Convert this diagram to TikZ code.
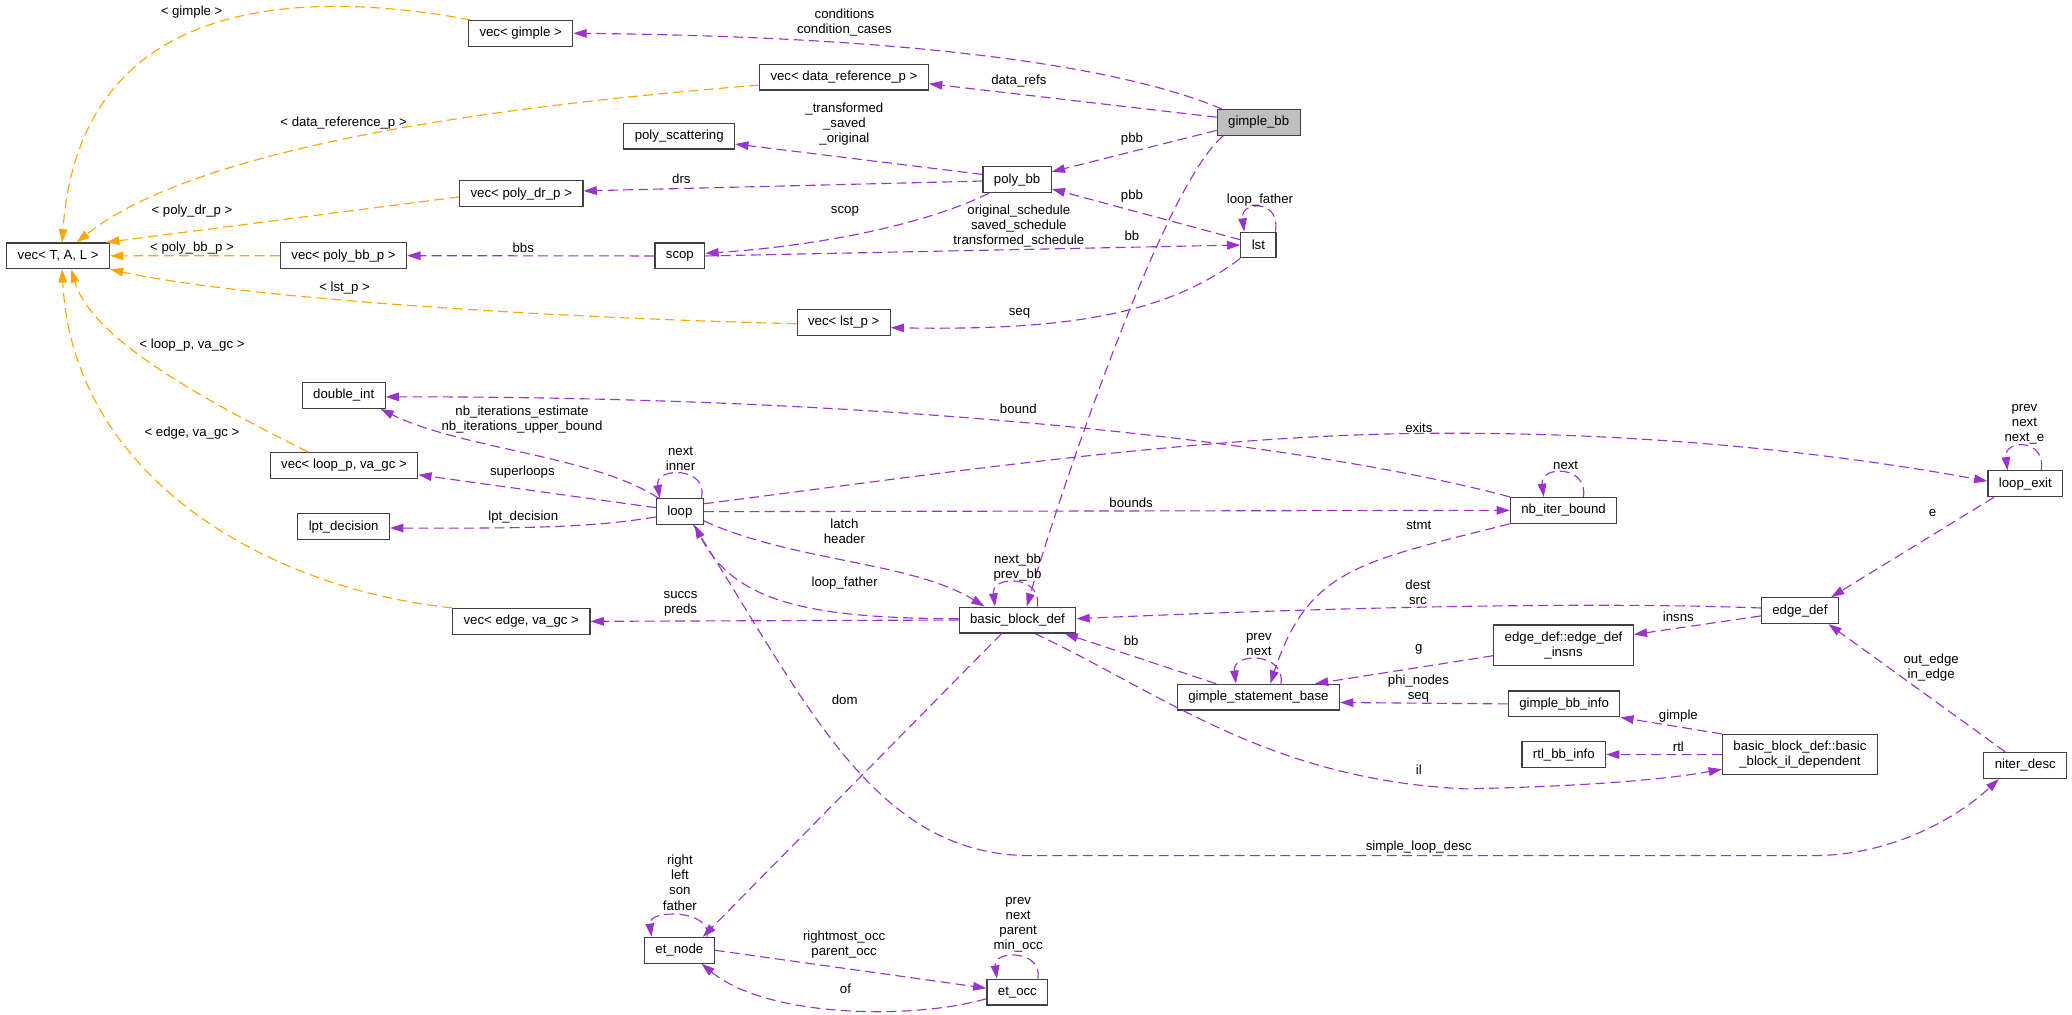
\documentclass[tikz,border=0pt]{standalone}
\usepackage{fontspec}
\setmainfont{Liberation Sans}
\usepackage{xcolor}
\usepackage{tikz}
\usetikzlibrary{arrows.meta}
\definecolor{boxgrey}{RGB}{64,64,64}
\definecolor{focusgrey}{RGB}{191,191,191}
\definecolor{usepurple}{RGB}{154,50,205}
\definecolor{instorange}{RGB}{255,165,0}
\newcommand{\lblfont}{\fontsize{10}{11.4}\selectfont}
\tikzset{
  cls/.style={draw=boxgrey,line width=0.9pt,fill=white,inner xsep=8.3pt,
    inner ysep=0pt,minimum height=19.5pt,font=\lblfont},
  focus/.style={cls,fill=focusgrey},
  twoline/.style={cls,align=center,minimum height=30.5pt},
  uses/.style={draw=usepurple,line width=0.85pt,dash pattern=on 7.5pt off 4pt,
    -{Triangle[length=10pt,width=6.5pt]}},
  inst/.style={uses,draw=instorange},
  lbl/.style={font=\lblfont,align=center,inner sep=0pt}
}

\begin{document}
\begin{tikzpicture}[x=1pt,y=-1pt]
  \useasboundingbox[fill=white] (0,0) rectangle (1568,768);
  \node[focus] (gbb) at (952.5,92.7) {gimple\_bb};
  \node[cls] (vecgimple) at (394,25.2) {vec< gimple >};
  \node[cls] (vecdataref) at (638.7,58.4) {vec< data\_reference\_p >};
  \node[cls] (polyscat) at (514,103) {poly\_scattering};
  \node[cls] (polybb) at (769.7,136) {poly\_bb};
  \node[cls] (vecpolydr) at (394.5,146.5) {vec< poly\_dr\_p >};
  \node[cls] (vectal) at (44,193.6) {vec< T, A, L >};
  \node[cls] (vecpolybb) at (260,193.5) {vec< poly\_bb\_p >};
  \node[cls] (scop) at (514.5,193.7) {scop};
  \node[cls] (lst) at (952.3,185.4) {lst};
  \node[cls] (veclst) at (638.5,244) {vec< lst\_p >};
  \node[cls] (doubleint) at (260.1,299.3) {double\_int};
  \node[cls] (vecloopp) at (260.3,352.3) {vec< loop\_p, va\_gc >};
  \node[cls] (loop) at (514.5,387.2) {loop};
  \node[cls] (lptdec) at (260.1,398.6) {lpt\_decision};
  \node[cls] (nbiter) at (1183.2,386.2) {nb\_iter\_bound};
  \node[cls] (loopexit) at (1532.7,366.1) {loop\_exit};
  \node[cls] (vecedge) at (394.5,470.2) {vec< edge, va\_gc >};
  \node[cls] (bbd) at (770,469.2) {basic\_block\_def};
  \node[cls] (edgedef) at (1362.1,462.1) {edge\_def};
  \node[twoline] (insns) at (1183.2,488.2) {edge\_def::edge\_def\\\_insns};
  \node[cls] (gsb) at (952.3,527.6) {gimple\_statement\_base};
  \node[cls] (gbbinfo) at (1183.6,532.7) {gimple\_bb\_info};
  \node[cls] (rtlinfo) at (1183.4,571) {rtl\_bb\_info};
  \node[twoline] (bbil) at (1362.1,571.1) {basic\_block\_def::basic\\\_block\_il\_dependent};
  \node[cls] (niter) at (1532.6,579.3) {niter\_desc};
  \node[cls] (etnode) at (514.1,719.1) {et\_node};
  \node[cls] (etocc) at (769.9,750.8) {et\_occ};

  \draw[uses] ([xshift=4pt]gbb.north west) .. controls (860,55) and (720,28) .. (vecgimple.east);
  \draw[uses] ([yshift=4pt]gbb.west) -- ([yshift=-5pt]vecdataref.east);
  \draw[uses] ([yshift=-6pt]gbb.west) -- ([yshift=6pt]polybb.east);
  \draw[uses] ([xshift=5pt]gbb.south west) .. controls (880,140) and (800,380) .. ([xshift=7pt]bbd.north);
  \draw[uses] ([yshift=4pt]polybb.west) -- ([yshift=-6pt]polyscat.east);
  \draw[uses] ([yshift=-1pt]polybb.west) -- ([yshift=2pt]vecpolydr.east);
  \draw[uses] ([xshift=5pt]polybb.south west) .. controls (700,170) and (620,186) .. ([yshift=2pt]scop.east);
  \draw[uses] ([yshift=4pt]lst.west) -- ([yshift=-7pt]polybb.east);
  \draw[uses] (scop.east) -- (lst.west);
  \draw[uses] ([xshift=-1pt]lst.north east) .. controls +(5,-24) and +(-3,-24) .. ([xshift=3pt]lst.north west);
  \draw[uses] (lst.south west) .. controls (880,240) and (800,250) .. ([yshift=-4pt]veclst.east);
  \draw[uses] (scop.west) -- (vecpolybb.east);
  \draw[uses] (nbiter.north west) .. controls (1000,338) and (700,300) .. ([yshift=-1pt]doubleint.east);
  \draw[uses] ([xshift=2pt]loop.north west) .. controls (450,345) and (350,340) .. ([xshift=-4pt]doubleint.south east);
  \draw[uses] ([xshift=-2pt]loop.north east) .. controls +(6,-24) and +(-4,-24) .. ([xshift=3pt]loop.north west);
  \draw[uses] ([yshift=3pt]loop.west) -- ([yshift=-7pt]vecloopp.east);
  \draw[uses] ([yshift=-4pt]loop.west) .. controls (450,399) and (400,400) .. ([yshift=-1pt]lptdec.east);
  \draw[uses] ([yshift=6pt]loop.east) .. controls (700,360) and (900,330) .. (1073,328)
    .. controls (1250,326) and (1400,345) .. ([yshift=2pt]loopexit.west);
  \draw[uses] (loop.east) -- (nbiter.west);
  \draw[uses] ([xshift=15pt]nbiter.north) .. controls +(4,-24) and +(-3,-24) .. ([xshift=-15pt]nbiter.north);
  \draw[uses] (nbiter.south west) .. controls (1030,425) and (990,430) .. ([xshift=9pt]gsb.north);
  \draw[uses] ([yshift=-7pt]loop.east) .. controls (600,425) and (690,425) .. ([xshift=-25pt]bbd.north);
  \draw[uses] ([yshift=1pt]bbd.west) .. controls (610,468) and (555,455) .. ([xshift=-7pt]loop.south east);
  \draw[uses] ([xshift=15pt]bbd.north) .. controls +(4,-24) and +(-3,-24) .. ([xshift=-17pt]bbd.north);
  \draw[uses] (bbd.west) -- (vecedge.east);
  \draw[uses] ([yshift=2pt]edgedef.west) .. controls (1200,455) and (1000,460) .. ([yshift=1pt]bbd.east);
  \draw[uses] ([xshift=-32pt]gsb.north) -- ([xshift=-9pt]bbd.south east);
  \draw[uses] ([xshift=17pt]gsb.north) .. controls +(4,-24) and +(-3,-24) .. ([xshift=-17pt]gsb.north);
  \draw[uses] ([xshift=-12pt]bbd.south) -- ([xshift=-9pt]etnode.north east);
  \draw[uses] ([xshift=13pt]bbd.south) .. controls (880,525) and (960,590) .. (1109,597)
    .. controls (1200,595) and (1260,590) .. ([yshift=-11pt]bbil.west);
  \draw[uses] ([xshift=-8pt]loop.south east) .. controls (610,530) and (660,647.5) .. (780,647.5)
    -- (1372,647.5) .. controls (1430,647.5) and (1480,620) .. ([xshift=-20pt]niter.south);
  \draw[uses] ([xshift=-15pt]niter.north) -- ([xshift=-8pt]edgedef.south east);
  \draw[uses] ([xshift=5pt]loopexit.south west) -- ([xshift=-6pt]edgedef.north east);
  \draw[uses] ([xshift=12pt]loopexit.north) .. controls +(4,-24) and +(-3,-24) .. ([xshift=-13.5pt]loopexit.north);
  \draw[uses] ([yshift=-4pt]edgedef.west) -- ([yshift=8pt]insns.east);
  \draw[uses] ([yshift=-8pt]insns.west) -- ([xshift=-19pt]gsb.north east);
  \draw[uses] (gbbinfo.west) -- ([yshift=-4pt]gsb.east);
  \draw[uses] (bbil.north west) -- (gbbinfo.south east);
  \draw[uses] (bbil.west) -- (rtlinfo.east);
  \draw[uses] ([xshift=21pt]etnode.north) .. controls +(4,-21) and +(-3,-21) .. ([xshift=-21pt]etnode.north);
  \draw[uses] (etnode.east) -- ([yshift=3pt]etocc.west);
  \draw[uses] ([yshift=-5pt]etocc.west) .. controls (690,772) and (580,770) .. ([xshift=-10pt]etnode.south east);
  \draw[uses] ([xshift=15.5pt]etocc.north) .. controls +(4,-22) and +(-3,-22) .. ([xshift=-15.5pt]etocc.north);

  \draw[inst] ([xshift=2pt]vecgimple.north west) .. controls (220,-10) and (60,0) .. ([xshift=3pt]vectal.north);
  \draw[inst] ([yshift=-6pt]vecdataref.west) .. controls (380,80) and (150,110) .. ([xshift=14pt]vectal.north);
  \draw[inst] ([yshift=-2.5pt]vecpolydr.west) -- ([xshift=-3pt]vectal.north east);
  \draw[inst] (vecpolybb.west) -- (vectal.east);
  \draw[inst] ([yshift=-1pt]veclst.west) .. controls (400,240) and (180,225) .. (vectal.south east);
  \draw[inst] ([xshift=-27pt]vecloopp.north) .. controls (170,310) and (70,260) .. ([xshift=10pt]vectal.south);
  \draw[inst] (vecedge.north west) .. controls (200,445) and (55,360) .. ([xshift=3pt]vectal.south);

  \node[lbl] (l_gimple) at (145,9) {< gimple >};
  \node[lbl] (l_cond) at (639,16.7) {conditions\\condition\_cases};
  \node[lbl] (l_datarefs) at (771,61.3) {data\_refs};
  \node[lbl] (l_dataref) at (260,93) {< data\_reference\_p >};
  \node[lbl] (l_scat) at (639,93.8) {\_transformed\\\_saved\\\_original};
  \node[lbl] (l_pbb1) at (856.6,105.2) {pbb};
  \node[lbl] (l_drs) at (515.6,135.5) {drs};
  \node[lbl] (l_polydr) at (145.3,159.7) {< poly\_dr\_p >};
  \node[lbl] (l_scop) at (639.4,159.7) {scop};
  \node[lbl] (l_pbb2) at (856.6,148.3) {pbb};
  \node[lbl] (l_lstfather) at (953.5,151.4) {loop\_father};
  \node[lbl] (l_sched) at (771,171.3) {original\_schedule\\saved\_schedule\\transformed\_schedule};
  \node[lbl] (l_bb1) at (856.6,178.4) {bb};
  \node[lbl] (l_polybb) at (145.3,187.9) {< poly\_bb\_p >};
  \node[lbl] (l_bbs) at (396,187.4) {bbs};
  \node[lbl] (l_lstp) at (260.8,218.2) {< lst\_p >};
  \node[lbl] (l_seq) at (771.5,237.1) {seq};
  \node[lbl] (l_loopp) at (145.3,261) {< loop\_p, va\_gc >};
  \node[lbl] (l_bound) at (770.6,309) {bound};
  \node[lbl] (l_nbiter) at (395,317.2) {nb\_iterations\_estimate\\nb\_iterations\_upper\_bound};
  \node[lbl] (l_exits) at (1073.7,323.7) {exits};
  \node[lbl] (l_edgeva) at (145.3,328) {< edge, va\_gc >};
  \node[lbl] (l_inner) at (515,347.5) {next\\inner};
  \node[lbl] (l_nbnext) at (1184.8,351.9) {next};
  \node[lbl] (l_exitnext) at (1532,321) {prev\\next\\next\_e};
  \node[lbl] (l_superloops) at (395.3,357) {superloops};
  \node[lbl] (l_bounds) at (856,380.4) {bounds};
  \node[lbl] (l_e) at (1462.4,388) {e};
  \node[lbl] (l_lpt) at (396,391) {lpt\_decision};
  \node[lbl] (l_stmt) at (1073.7,397.3) {stmt};
  \node[lbl] (l_latch) at (639,401.7) {latch\\header};
  \node[lbl] (l_nextbb) at (770,429.5) {next\_bb\\prev\_bb};
  \node[lbl] (l_loopfather) at (639.2,441.4) {loop\_father};
  \node[lbl] (l_dest) at (1073,448.4) {dest\\src};
  \node[lbl] (l_succs) at (515,457.2) {succs\\preds};
  \node[lbl] (l_insns) at (1270.1,466.7) {insns};
  \node[lbl] (l_bb2) at (856,484.9) {bb};
  \node[lbl] (l_gsbnext) at (952.7,487.5) {prev\\next};
  \node[lbl] (l_g) at (1073.7,491.4) {g};
  \node[lbl] (l_outedge) at (1461.4,505.2) {out\_edge\\in\_edge};
  \node[lbl] (l_phi) at (1073.4,521) {phi\_nodes\\seq};
  \node[lbl] (l_dom) at (639.2,529.7) {dom};
  \node[lbl] (l_gimpleinfo) at (1270.1,541.9) {gimple};
  \node[lbl] (l_rtl) at (1270.1,565) {rtl};
  \node[lbl] (l_il) at (1073.7,582.7) {il};
  \node[lbl] (l_simple) at (1073.6,641.2) {simple\_loop\_desc};
  \node[lbl] (l_etnode) at (514.5,668) {right\\left\\son\\father};
  \node[lbl] (l_etocc) at (770.5,700) {prev\\next\\parent\\min\_occ};
  \node[lbl] (l_rightmost) at (638.8,714.5) {rightmost\_occ\\parent\_occ};
  \node[lbl] (l_of) at (639.8,748.5) {of};
\end{tikzpicture}
\end{document}
